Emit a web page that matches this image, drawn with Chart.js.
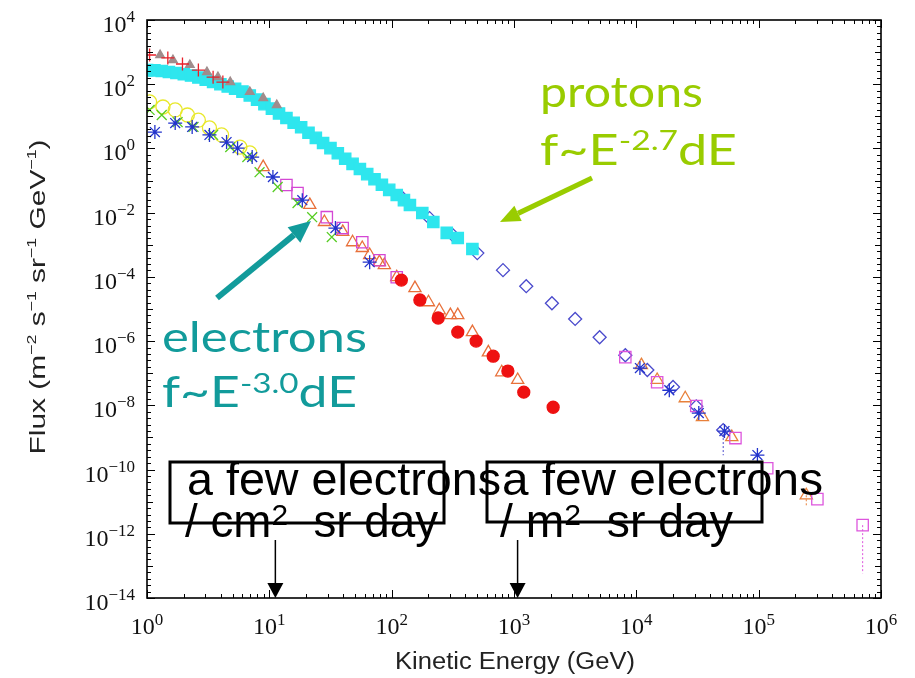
<!DOCTYPE html>
<html>
<head>
<meta charset="utf-8">
<script src="https://cdn.jsdelivr.net/npm/chart.js@4"></script>
<style>
html, body { margin: 0; padding: 0; background: #fff; }
</style>
</head>
<body>
<canvas id="myChart" width="915" height="678"></canvas>
<script>
// energies in GeV, fluxes in m^-2 s^-1 sr^-1 GeV^-1

// protons, dense cyan squares
const protonE = [1, 1.15, 1.32, 1.51, 1.74, 2.0, 2.29, 2.63, 3.02, 3.47, 3.98, 4.57, 5.25, 6.03, 6.92, 7.94, 9.12, 10.5, 12.0, 13.8,
  15.8, 18.2, 20.9, 24.0, 27.5, 31.6, 36.3, 41.7, 47.9, 55.0, 63.1, 72.4, 83.2, 95.5, 110, 126, 141, 178, 219, 282, 347, 457];
const protonF = [275, 269, 257, 240, 224, 204, 186, 162, 138, 117, 100, 85.1, 72.4, 58.9, 44.7, 33.1, 24.0, 17.4, 12.3, 8.91,
  6.31, 4.57, 3.09, 2.14, 1.48, 1.02, 0.708, 0.479, 0.331, 0.229, 0.158, 0.110, 0.0741, 0.0513, 0.0355, 0.0245,
  0.0174, 0.00977, 0.00513, 0.00234, 0.00162, 0.000741];

// protons, red crosses and grey triangles at low energy
const protonPlusE = [1.05, 1.48, 1.95, 2.63, 3.47, 4.17];
const protonPlusF = [813, 661, 427, 275, 166, 117];
const protonTriE = [1.28, 1.63, 2.24, 3.09, 3.80, 4.79, 6.92, 8.91, 11.5];
const protonTriF = [813, 562, 398, 240, 166, 117, 57.5, 37.2, 22.4];

// protons, blue diamonds
const protonDiaE = [123, 204, 316, 501, 813, 1259, 2042, 3162, 5012, 8128, 12300, 19950, 30900, 51300];
const protonDiaF = [0.0282, 0.00676, 0.00200, 0.000550, 0.000162, 5.13e-5, 1.51e-5, 4.90e-6, 1.32e-6, 3.63e-7,
  1.26e-7, 3.72e-8, 9.33e-9, 1.70e-9];

// high energy points (other experiments)
const hiSquareE = [8128, 14800, 30900, 64600, 117500, 302000, 708000];
const hiSquareF = [3.16e-7, 5.25e-8, 9.55e-9, 9.55e-10, 1.10e-10, 1.20e-11, 1.86e-12];
const hiStarE = [10700, 18600, 32400, 52500, 97700];
const hiStarF = [1.45e-7, 2.95e-8, 5.75e-9, 1.58e-9, 2.82e-10];
const hiTriE = [11000, 14800, 25100, 34700, 60300, 245000];
const hiTriF = [1.78e-7, 6.17e-8, 1.66e-8, 4.27e-9, 1.02e-9, 1.58e-11];

// electrons
const elYellowE = [1.05, 1.35, 1.70, 2.14, 2.63, 3.24, 4.07, 5.75, 6.92];
const elYellowF = [28.2, 19.5, 15.8, 11.0, 7.59, 4.37, 2.63, 1.10, 0.724];
const elCrossE = [1.05, 1.32, 1.78, 2.40, 3.47, 4.79, 6.61, 8.32, 11.7, 17.0, 22.4, 32.4];
const elCrossF = [15.8, 11.0, 6.61, 4.68, 2.63, 1.10, 0.537, 0.182, 0.0631, 0.0200, 0.00724, 0.00174];
const elStarE = [1.16, 1.70, 2.34, 3.24, 4.47, 5.50, 7.24, 10.7, 18.6, 34.7, 66.1];
const elStarF = [3.24, 6.17, 4.68, 2.63, 1.58, 1.02, 0.537, 0.129, 0.0245, 0.00331, 0.000288];
const elSquareE = [13.8, 17.0, 29.5, 39.8, 57.5, 79.4, 110];
const elSquareF = [0.0724, 0.0407, 0.00724, 0.00331, 0.00120, 0.000331, 9.77e-5];
const elTriE = [8.91, 21.4, 28.2, 39.8, 47.9, 57.5, 66.1, 79.4, 87.1, 110, 155, 200, 245, 302, 347, 457, 617, 794, 1072];
const elTriF = [0.263, 0.0174, 0.00513, 0.00251, 0.00120, 0.000794, 0.000479, 0.000288, 0.000234, 9.77e-5,
  4.47e-5, 1.62e-5, 9.12e-6, 6.46e-6, 6.46e-6, 1.91e-6, 4.47e-7, 1.07e-7, 6.17e-8];
const elDotE = [120, 170, 240, 347, 490, 676, 891, 1202, 2089];
const elDotF = [7.94e-5, 1.91e-5, 5.25e-6, 1.91e-6, 1.0e-6, 3.39e-7, 1.17e-7, 2.57e-8, 8.71e-9];

// dotted error bars at the high energy end
const errE = [51300, 245000, 708000];
const errHi = [1.70e-9, 1.58e-11, 1.86e-12];
const errLo = [2.8e-10, 6.8e-12, 5.9e-14];
const errColor = ['#4a4acc', '#e8803a', '#dd55dd'];

// axis decades
const xDecades = [0, 1, 2, 3, 4, 5, 6];
const yDecades = [4, 2, 0, -2, -4, -6, -8, -10, -12, -14];

const SERIF = "'Liberation Serif', 'Times New Roman', serif";
const SANS = "'Liberation Sans', Arial, sans-serif";
const COMIC = "'Comic Sans MS', 'Lato', sans-serif";

function pts(xs, ys) {
  return xs.map((x, i) => ({ x: x, y: ys[i] }));
}

function series(xs, ys, style, color, r, fill) {
  return {
    data: pts(xs, ys),
    pointStyle: style,
    pointRadius: r,
    borderColor: color,
    backgroundColor: fill ? color : 'rgba(0,0,0,0)',
    pointBorderWidth: 1.3,
    showLine: false
  };
}

// text made of pieces: [text, size, rise]; optionally stretched to a width
function drawParts(ctx, parts, x, y, opt) {
  let w = 0;
  parts.forEach(p => { ctx.font = p[1] + 'px ' + opt.family; w += ctx.measureText(p[0]).width; });
  const k = opt.width ? opt.width / w : 1;
  const W = w * k;
  const x0 = opt.align === 'center' ? x - W / 2 : (opt.align === 'right' ? x - W : x);
  ctx.save();
  ctx.translate(x0, y);
  ctx.scale(k, 1);
  ctx.fillStyle = opt.color || '#000';
  ctx.textAlign = 'left';
  ctx.textBaseline = 'alphabetic';
  let cx = 0;
  parts.forEach(p => {
    ctx.font = p[1] + 'px ' + opt.family;
    ctx.fillText(p[0], cx, -(p[2] || 0));
    cx += ctx.measureText(p[0]).width;
  });
  ctx.restore();
}

function arrow(ctx, x1, y1, x2, y2, color, lw, hl, hw) {
  const ang = Math.atan2(y2 - y1, x2 - x1);
  const bx = x2 - Math.cos(ang) * hl, by = y2 - Math.sin(ang) * hl;
  ctx.save();
  ctx.strokeStyle = color;
  ctx.fillStyle = color;
  ctx.lineWidth = lw;
  ctx.beginPath();
  ctx.moveTo(x1, y1);
  ctx.lineTo(bx, by);
  ctx.stroke();
  ctx.beginPath();
  ctx.moveTo(x2, y2);
  ctx.lineTo(bx + Math.sin(ang) * hw / 2, by - Math.cos(ang) * hw / 2);
  ctx.lineTo(bx - Math.sin(ang) * hw / 2, by + Math.cos(ang) * hw / 2);
  ctx.closePath();
  ctx.fill();
  ctx.restore();
}

function sup(n) {
  return n < 0 ? '\u2212' + Math.abs(n) : String(n);
}

const framePlugin = {
  id: 'frame',
  afterDraw(chart) {
    const ctx = chart.ctx, a = chart.chartArea;
    const xs = chart.scales.x, ys = chart.scales.y;

    // box and inward ticks
    ctx.save();
    ctx.strokeStyle = '#000';
    ctx.lineWidth = 1;
    ctx.beginPath();
    for (let d = 0; d <= 6; d++) {
      for (let m = 1; m <= 9; m++) {
        if (d === 6 && m > 1) break;
        const px = Math.round(xs.getPixelForValue(m * Math.pow(10, d))) + 0.5;
        const len = m === 1 ? 8 : 4;
        ctx.moveTo(px, a.bottom); ctx.lineTo(px, a.bottom - len);
        ctx.moveTo(px, a.top); ctx.lineTo(px, a.top + len);
      }
    }
    for (let i = 0; i <= 90; i++) {
      const py = Math.round(ys.getPixelForValue(Math.pow(10, -14 + i * 0.2))) + 0.5;
      const len = i % 10 === 0 ? 8 : (i % 5 === 0 ? 6 : 4);
      ctx.moveTo(a.left, py); ctx.lineTo(a.left + len, py);
      ctx.moveTo(a.right, py); ctx.lineTo(a.right - len, py);
    }
    ctx.stroke();
    ctx.lineWidth = 1.6;
    ctx.strokeRect(a.left, a.top, a.right - a.left, a.bottom - a.top);
    ctx.restore();

    // tick labels
    xDecades.forEach(d => {
      const px = xs.getPixelForValue(Math.pow(10, d));
      drawParts(ctx, [['10', 24, 0], [sup(d), 17, 9]], px, a.bottom + 36, { family: SERIF, align: 'center', color: '#111' });
    });
    yDecades.forEach(d => {
      const py = ys.getPixelForValue(Math.pow(10, d));
      drawParts(ctx, [['10', 24, 0], [sup(d), 17, 10]], 135, py + 12, { family: SERIF, align: 'right', color: '#111' });
    });

    // axis titles
    drawParts(ctx, [['Kinetic Energy (GeV)', 23, 0]], 515, 669, { family: SANS, align: 'center', width: 240, color: '#222' });
    ctx.save();
    ctx.translate(45, 297);
    ctx.rotate(-Math.PI / 2);
    drawParts(ctx, [['Flux (m', 22, 0], ['\u22122', 13, 9], [' s', 22, 0], ['\u22121', 13, 9], [' sr', 22, 0],
      ['\u22121', 13, 9], [' GeV', 22, 0], ['\u22121', 13, 9], [')', 22, 0]], 0, 0,
      { family: SANS, align: 'center', width: 315, color: '#222' });
    ctx.restore();

    // protons / electrons labels
    const green = '#99cc00', teal = '#129b9b';
    drawParts(ctx, [['protons', 42, 0]], 540, 107, { family: COMIC, width: 163, color: green });
    drawParts(ctx, [['f~E', 42, 0], ['-2.7', 27, 15], ['dE', 42, 0]], 540, 165, { family: COMIC, width: 197, color: green });
    arrow(ctx, 592, 178, 500, 222, green, 5, 20, 17);
    drawParts(ctx, [['electrons', 42, 0]], 162, 352, { family: COMIC, width: 205, color: teal });
    drawParts(ctx, [['f~E', 42, 0], ['-3.0', 27, 14], ['dE', 42, 0]], 162, 407, { family: COMIC, width: 195, color: teal });
    arrow(ctx, 217, 298, 311, 221, teal, 6, 22, 20);

    // rate boxes
    ctx.save();
    ctx.strokeStyle = '#000';
    ctx.lineWidth = 3;
    ctx.strokeRect(170, 462, 274, 61);
    ctx.strokeRect(487, 462, 275, 60);
    ctx.restore();
    drawParts(ctx, [['a few electrons', 46, 0]], 187, 495, { family: SANS, width: 314 });
    drawParts(ctx, [['/ cm', 46, 0], ['2', 30, 12], ['  sr day', 46, 0]], 185, 537, { family: SANS, width: 253 });
    drawParts(ctx, [['a few electrons', 46, 0]], 502, 495, { family: SANS, width: 321 });
    drawParts(ctx, [['/ m', 46, 0], ['2', 30, 12], ['  sr day', 46, 0]], 500, 537, { family: SANS, width: 233 });
    const ax1 = xs.getPixelForValue(11.2), ax2 = xs.getPixelForValue(1070);
    arrow(ctx, ax1, 540, ax1, a.bottom, '#000', 1.5, 15, 16);
    arrow(ctx, ax2, 540, ax2, a.bottom, '#000', 1.5, 15, 16);
  }
};

const datasets = [
  series(protonPlusE, protonPlusF, 'cross', '#e8202a', 6.5, false),
  series(protonTriE, protonTriF, 'triangle', '#a08c8c', 5, true),
  series(protonE, protonF, 'rect', '#2ee6ee', 8, true),
  series(elStarE, elStarF, 'star', '#2233cc', 7, false),
  series(hiStarE, hiStarF, 'star', '#2233cc', 7, false),
  series(elDotE, elDotF, 'circle', '#ee1111', 6, true),
  series(elCrossE, elCrossF, 'crossRot', '#55cc22', 7, false),
  series(elYellowE, elYellowF, 'circle', '#e8e82a', 7, false),
  series(elSquareE, elSquareF, 'rect', '#d447d4', 8, false),
  series(hiSquareE, hiSquareF, 'rect', '#dd55dd', 8, false),
  series(elTriE, elTriF, 'triangle', '#e8703a', 7, false),
  series(hiTriE, hiTriF, 'triangle', '#e8803a', 7, false),
  series(protonDiaE, protonDiaF, 'rectRot', '#4a4acc', 6.5, false)
];
errE.forEach((e, i) => {
  datasets.push({
    data: [{ x: e, y: errHi[i] }, { x: e, y: errLo[i] }],
    showLine: true,
    pointRadius: 0,
    borderColor: errColor[i],
    borderWidth: 1,
    borderDash: [2, 2]
  });
});

new Chart(document.getElementById('myChart'), {
  type: 'scatter',
  data: { datasets: datasets },
  options: {
    responsive: false,
    animation: false,
    devicePixelRatio: 1,
    layout: { padding: { left: 147, right: 34, top: 20, bottom: 80 } },
    plugins: { legend: { display: false }, tooltip: { enabled: false } },
    scales: {
      x: { type: 'logarithmic', min: 1, max: 1e6, display: false },
      y: { type: 'logarithmic', min: 1e-14, max: 1e4, display: false }
    }
  },
  plugins: [framePlugin]
});
</script>
</body>
</html>
